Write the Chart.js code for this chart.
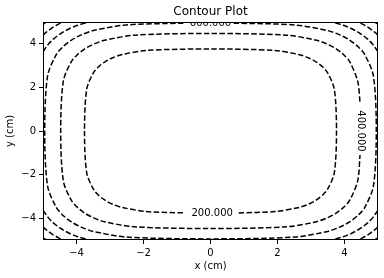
<!DOCTYPE html>
<html>
<head>
<meta charset="utf-8">
<script src="https://cdn.jsdelivr.net/npm/chart.js@4.4.1/dist/chart.umd.min.js"></script>
<style>
  html, body { margin: 0; padding: 0; background: #fff; }
</style>
</head>
<body>
<canvas id="myChart" width="384" height="278"></canvas>
<script>
// contour levels and the traced lines (x, y in cm)
const levels = [200, 400, 600, 800, 1000, 1200];
const xTicks = [-4, -2, 0, 2, 4];
const yTicks = [-4, -2, 0, 2, 4];

// closed loops, open where the inline label sits
const line200 = [[0.84,-3.758],[1.913,-3.696],[2.659,-3.5],[2.934,-3.35],[3.162,-3.162],[3.35,-2.934],[3.5,-2.659],[3.696,-1.913],[3.761,0],
  [3.696,1.913],[3.5,2.659],[3.35,2.934],[3.162,3.162],[2.934,3.35],[2.659,3.5],[1.913,3.696],[0,3.761],
  [-1.913,3.696],[-2.659,3.5],[-2.934,3.35],[-3.162,3.162],[-3.35,2.934],[-3.5,2.659],[-3.696,1.913],[-3.761,0],
  [-3.696,-1.913],[-3.5,-2.659],[-3.35,-2.934],[-3.162,-3.162],[-2.934,-3.35],[-2.659,-3.5],[-1.913,-3.696],[-0.75,-3.758]];
const line400 = [[4.462,1.35],[4.395,2.275],[4.162,3.162],[3.983,3.489],[3.761,3.761],[3.489,3.983],[3.162,4.162],[2.275,4.395],[0,4.472],
  [-2.275,4.395],[-3.162,4.162],[-3.489,3.983],[-3.761,3.761],[-3.983,3.489],[-4.162,3.162],[-4.395,2.275],[-4.472,0],
  [-4.395,-2.275],[-4.162,-3.162],[-3.983,-3.489],[-3.761,-3.761],[-3.489,-3.983],[-3.162,-4.162],[-2.275,-4.395],[0,-4.472],
  [2.275,-4.395],[3.162,-4.162],[3.489,-3.983],[3.761,-3.761],[3.983,-3.489],[4.162,-3.162],[4.395,-2.275],[4.464,-1.1]];
const line600 = [[-0.81,4.948],[-2.518,4.864],[-3.5,4.606],[-3.861,4.408],[-4.162,4.162],[-4.408,3.861],[-4.606,3.5],[-4.864,2.518],[-4.949,0],
  [-4.864,-2.518],[-4.606,-3.5],[-4.408,-3.861],[-4.162,-4.162],[-3.861,-4.408],[-3.5,-4.606],[-2.518,-4.864],[0,-4.949],
  [2.518,-4.864],[3.5,-4.606],[3.861,-4.408],[4.162,-4.162],[4.408,-3.861],[4.606,-3.5],[4.864,-2.518],[4.949,0],
  [4.864,2.518],[4.606,3.5],[4.408,3.861],[4.162,4.162],[3.861,4.408],[3.5,4.606],[2.518,4.864],[0.69,4.948]];

// corner pieces that run off the edges
const line800 = [
  [[5,3.637],[4.85,3.963],[4.7,4.203],[4.472,4.472],[4.203,4.7],[3.963,4.85],[3.637,5]],
  [[-5,3.637],[-4.85,3.963],[-4.7,4.203],[-4.472,4.472],[-4.203,4.7],[-3.963,4.85],[-3.637,5]],
  [[-5,-3.637],[-4.85,-3.963],[-4.7,-4.203],[-4.472,-4.472],[-4.203,-4.7],[-3.963,-4.85],[-3.637,-5]],
  [[5,-3.637],[4.85,-3.963],[4.7,-4.203],[4.472,-4.472],[4.203,-4.7],[3.963,-4.85],[3.637,-5]]
];
const line1000 = [
  [[5,4.401],[4.9,4.536],[4.729,4.729],[4.536,4.9],[4.401,5]],
  [[-5,4.401],[-4.9,4.536],[-4.729,4.729],[-4.536,4.9],[-4.401,5]],
  [[-5,-4.401],[-4.9,-4.536],[-4.729,-4.729],[-4.536,-4.9],[-4.401,-5]],
  [[5,-4.401],[4.9,-4.536],[4.729,-4.729],[4.536,-4.9],[4.401,-5]]
];
const line1200 = [
  [[5,4.897],[4.949,4.949],[4.897,5]],
  [[-5,4.897],[-4.949,4.949],[-4.897,5]],
  [[-5,-4.897],[-4.949,-4.949],[-4.897,-5]],
  [[5,-4.897],[4.949,-4.949],[4.897,-5]]
];

// inline labels: level, where it sits, rotated or not
const labelLevels = [600, 400, 200];
const labelX = [0, 4.472, 0.05];
const labelY = [4.949, 0, -3.76];
const labelVertical = [false, true, false];

const FONT = "'DejaVu Sans', sans-serif";

function makeSet(pts) {
    return {
        data: pts.map(p => ({ x: p[0], y: p[1] })),
        showLine: true,
        borderColor: '#000',
        borderWidth: 1.5,
        borderDash: [5.5, 2.4],
        pointRadius: 0,
        tension: 0.3,
        fill: false,
        clip: 0
    };
}

const datasets = [line200, line400, line600].map(makeSet)
    .concat(line800.map(makeSet), line1000.map(makeSet), line1200.map(makeSet));

// frame, title and contour labels
const decor = {
    id: 'decor',
    afterDatasetsDraw(chart) {
        const c = chart.ctx;
        const a = chart.chartArea;
        const xs = chart.scales.x, ys = chart.scales.y;

        c.save();
        c.beginPath();
        c.rect(a.left, a.top, a.right - a.left, a.bottom - a.top);
        c.clip();
        c.fillStyle = '#000';
        c.font = '10px ' + FONT;
        c.textAlign = 'center';
        c.textBaseline = 'middle';
        labelLevels.forEach((lv, i) => {
            c.save();
            c.translate(xs.getPixelForValue(labelX[i]), ys.getPixelForValue(labelY[i]));
            if (labelVertical[i]) c.rotate(Math.PI / 2);
            c.fillText(lv.toFixed(3), 0, 0);
            c.restore();
        });
        c.restore();

        c.save();
        c.strokeStyle = '#000';
        c.lineWidth = 1;
        c.strokeRect(a.left + 0.5, a.top + 0.5, a.right - a.left - 1, a.bottom - a.top - 1);
        c.fillStyle = '#000';
        c.font = '12px ' + FONT;
        c.textAlign = 'center';
        c.textBaseline = 'middle';
        c.fillText('Contour Plot', (a.left + a.right) / 2, 12);
        c.restore();
    }
};

const minus = v => String(v).replace('-', '\u2212');

const ctx = document.getElementById('myChart').getContext('2d');
const myChart = new Chart(ctx, {
    type: 'scatter',
    data: { datasets: datasets },
    options: {
        responsive: false,
        animation: false,
        events: [],
        layout: { padding: { left: 0, right: 6, top: 22, bottom: 0 } },
        plugins: { legend: { display: false }, tooltip: { enabled: false } },
        scales: {
            x: {
                type: 'linear', min: -5, max: 5,
                afterBuildTicks: s => { s.ticks = xTicks.map(v => ({ value: v })); },
                afterFit: s => { s.height = 38; },
                grid: { drawOnChartArea: false, drawTicks: true, tickLength: 4, color: '#000' },
                border: { display: false },
                ticks: { color: '#000', font: { family: FONT, size: 10 }, padding: 3, maxRotation: 0, callback: minus },
                title: { display: true, text: 'x (cm)', color: '#000', font: { family: FONT, size: 10 }, padding: { top: 0, bottom: 6 } }
            },
            y: {
                type: 'linear', min: -5, max: 5,
                afterBuildTicks: s => { s.ticks = yTicks.map(v => ({ value: v })); },
                afterFit: s => { s.width = 43; },
                grid: { drawOnChartArea: false, drawTicks: true, tickLength: 4, color: '#000' },
                border: { display: false },
                ticks: { color: '#000', font: { family: FONT, size: 10 }, padding: 3, callback: minus },
                title: { display: true, text: 'y (cm)', color: '#000', font: { family: FONT, size: 10 }, padding: { top: 4, bottom: 0 } }
            }
        }
    },
    plugins: [decor]
});
</script>
</body>
</html>
